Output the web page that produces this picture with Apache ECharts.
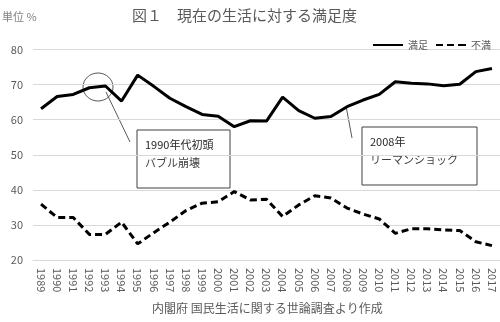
<!DOCTYPE html>
<html><head><meta charset="utf-8">
<script src="https://cdn.jsdelivr.net/npm/echarts@6/dist/echarts.min.js"></script>
<style>html,body{margin:0;padding:0;background:#fff}#c{width:500px;height:322px}</style>
</head><body><div id="c"></div>
<script>
const years = ['1989','1990','1991','1992','1993','1994','1995','1996','1997','1998','1999','2000','2001','2002','2003','2004','2005','2006','2007','2008','2009','2010','2011','2012','2013','2014','2015','2016','2017'];
const satisfied = [63.1,66.6,67.2,69.1,69.6,65.3,72.7,69.5,66.1,63.7,61.5,61.0,58.0,59.7,59.6,66.4,62.6,60.4,60.9,63.7,65.6,67.2,70.8,70.4,70.2,69.7,70.1,73.7,74.6];
const dissatisfied = [35.9,32.1,32.1,27.3,27.3,30.8,24.6,27.8,30.8,34.1,36.2,36.6,39.5,37.1,37.3,32.4,35.7,38.3,37.7,34.8,33.1,31.7,27.6,28.9,28.9,28.6,28.4,25.2,24.1];
const seriesNames = ['満足','不満'];
const titleText = '図１　現在の生活に対する満足度';
const unitText = '単位 %';
const sourceText = '内閣府 国民生活に関する世論調査より作成';
const note1 = ['1990年代初頭','バブル崩壊'];
const note2 = ['2008年','リーマンショック'];

const font = '"Noto Sans CJK JP", "Noto Sans", sans-serif';
const chart = echarts.init(document.getElementById('c'));
chart.setOption({
  animation: false,
  backgroundColor: '#fff',
  textStyle: {fontFamily: font},
  title: {text: titleText, left: 127, top: 3,
    textStyle: {fontFamily: font, fontSize: 15, fontWeight: 'normal', color: '#595959'}},
  legend: {right: 4, top: 35, itemWidth: 30, itemHeight: 10, itemGap: 8,
    textStyle: {fontFamily: font, fontSize: 10, color: '#595959'},
    data: [
      {name: seriesNames[0], icon: 'path://M0,4 L30,4 L30,6 L0,6 Z'},
      {name: seriesNames[1], icon: 'path://M0,4 L7,4 L7,6 L0,6 Z M11,4 L18,4 L18,6 L11,6 Z M22,4 L30,4 L30,6 L22,6 Z'}
    ]},
  grid: {left: 33, right: 0, top: 49.5, bottom: 62, containLabel: false},
  xAxis: {type: 'category', data: years, boundaryGap: true,
    axisLine: {show: true, lineStyle: {color: '#d9d9d9'}},
    axisTick: {show: false},
    axisLabel: {rotate: -90, interval: 0, fontSize: 11, color: '#595959', margin: 8, fontFamily: font}},
  yAxis: {type: 'value', min: 20, max: 80, interval: 10,
    axisLine: {show: false}, axisTick: {show: false},
    splitLine: {lineStyle: {color: '#d9d9d9', width: 1}},
    axisLabel: {fontSize: 11, color: '#595959', margin: 10, fontFamily: font}},
  series: [
    {name: seriesNames[0], type: 'line', data: satisfied, symbol: 'none',
      lineStyle: {color: '#000', width: 3}, itemStyle: {color: '#000'}},
    {name: seriesNames[1], type: 'line', data: dissatisfied, symbol: 'none',
      lineStyle: {color: '#000', width: 3, type: [7, 4]}, itemStyle: {color: '#000'}}
  ],
  graphic: [
    {type: 'text', left: 2, top: 11, style: {text: unitText, fontSize: 11, fill: '#7f7f7f', fontFamily: font}},
    {type: 'text', left: 152, top: 302, style: {text: sourceText, fontSize: 12, fill: '#595959', fontFamily: font}},
    {type: 'ellipse', shape: {cx: 98, cy: 87, rx: 15, ry: 14}, style: {fill: 'none', stroke: '#595959', lineWidth: 1}},
    {type: 'line', shape: {x1: 106, y1: 92, x2: 130, y2: 142}, style: {stroke: '#595959', lineWidth: 1}},
    {type: 'rect', shape: {x: 137, y: 130, width: 93, height: 58}, style: {fill: '#fff', stroke: '#404040', lineWidth: 1}},
    {type: 'text', x: 145, y: 139, style: {text: note1[0], fontSize: 11, fill: '#262626', fontFamily: font}},
    {type: 'text', x: 145, y: 157, style: {text: note1[1], fontSize: 11, fill: '#404040', fontFamily: font}},
    {type: 'line', shape: {x1: 346, y1: 106, x2: 352, y2: 138}, style: {stroke: '#595959', lineWidth: 1}},
    {type: 'rect', shape: {x: 362, y: 127, width: 115, height: 58}, style: {fill: '#fff', stroke: '#404040', lineWidth: 1}},
    {type: 'text', x: 370, y: 136, style: {text: note2[0], fontSize: 11, fill: '#262626', fontFamily: font}},
    {type: 'text', x: 370, y: 154, style: {text: note2[1], fontSize: 11, fill: '#404040', fontFamily: font}}
  ]
});
</script></body></html>
